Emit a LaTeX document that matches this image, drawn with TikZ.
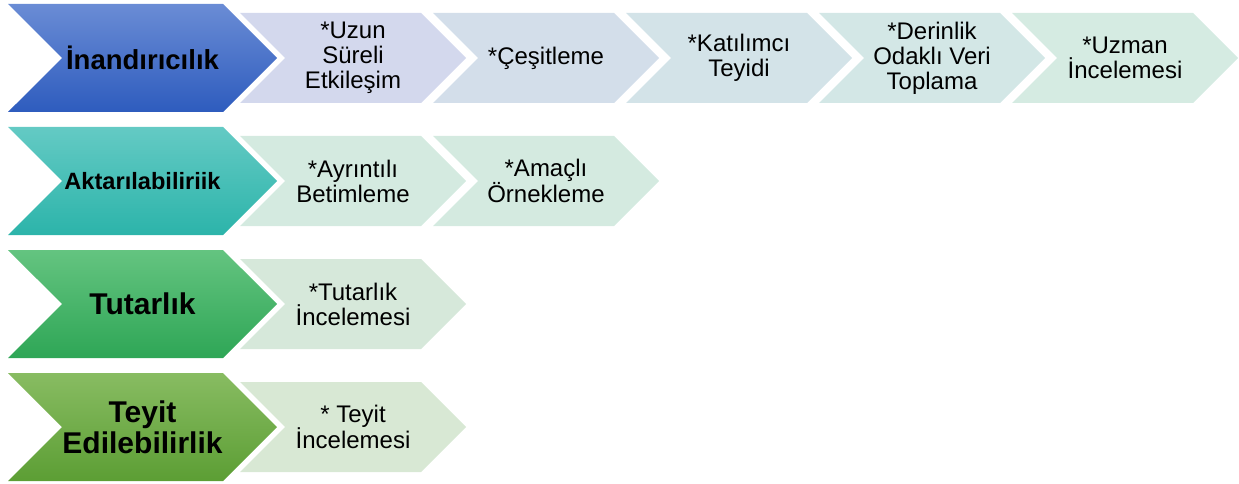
\documentclass[tikz,border=0pt]{standalone}
\usepackage{fontspec}
\setmainfont{Liberation Sans}
\usetikzlibrary{shapes.symbols}

\definecolor{inaTop}{RGB}{106,140,213}
\definecolor{inaBot}{RGB}{46,92,190}
\definecolor{aktTop}{RGB}{100,202,196}
\definecolor{aktBot}{RGB}{44,180,170}
\definecolor{tutTop}{RGB}{100,196,128}
\definecolor{tutBot}{RGB}{46,166,86}
\definecolor{teyTop}{RGB}{136,188,98}
\definecolor{teyBot}{RGB}{92,158,52}
\definecolor{inaA}{RGB}{211,216,237}
\definecolor{inaB}{RGB}{211,222,234}
\definecolor{inaC}{RGB}{211,227,232}
\definecolor{inaD}{RGB}{211,231,230}
\definecolor{inaE}{RGB}{213,235,226}
\definecolor{aktL}{RGB}{212,234,224}
\definecolor{tutL}{RGB}{214,232,218}
\definecolor{teyL}{RGB}{216,232,212}

\tikzset{
  chev/.style={signal, signal from=west, signal to=east, signal pointer angle=90,
    inner sep=0pt, align=center, draw=none},
  bigchev/.style={chev, minimum width=269pt, minimum height=108pt,
    font=\fontsize{27.5}{31}\selectfont\bfseries},
  smallchev/.style={chev, minimum width=226pt, minimum height=90pt,
    font=\fontsize{24}{25}\selectfont},
}

\begin{document}
\begin{tikzpicture}[x=1pt,y=1pt]
\useasboundingbox (0,0) rectangle (1239,-484);
% Inandiricilik
\node[smallchev, fill=inaA] (ina1) at (353,-58) {*Uzun\\Süreli\\Etkileşim};
\node[smallchev, fill=inaB] (ina2) at (546,-58) {*Çeşitleme};
\node[smallchev, fill=inaC] (ina3) at (739,-58) {*Katılımcı\\Teyidi};
\node[smallchev, fill=inaD] (ina4) at (932,-58) {*Derinlik\\Odaklı Veri\\Toplama};
\node[smallchev, fill=inaE] (ina5) at (1125,-58) {*Uzman\\İncelemesi};
\node[bigchev, top color=inaTop, bottom color=inaBot] (ina) at (142.5,-58) {İnandırıcılık};
% Aktarilabilirlik
\node[smallchev, fill=aktL] (akt1) at (353,-181) {*Ayrıntılı\\Betimleme};
\node[smallchev, fill=aktL] (akt2) at (546,-181) {*Amaçlı\\Örnekleme};
\node[bigchev, top color=aktTop, bottom color=aktBot,
  font=\fontsize{23.6}{26}\selectfont\bfseries] (akt) at (142.5,-181) {Aktarılabiliriik};
% Tutarlik
\node[smallchev, fill=tutL] (tut1) at (353,-304) {*Tutarlık\\İncelemesi};
\node[bigchev, top color=tutTop, bottom color=tutBot,
  font=\fontsize{30}{31}\selectfont\bfseries] (tut) at (142.5,-304) {Tutarlık};
% Teyit edilebilirlik
\node[smallchev, fill=teyL] (tey1) at (353,-427) {* Teyit\\İncelemesi};
\node[bigchev, top color=teyTop, bottom color=teyBot,
  font=\fontsize{30}{31}\selectfont\bfseries] (tey) at (142.5,-427) {Teyit\\Edilebilirlik};
\end{tikzpicture}
\end{document}
